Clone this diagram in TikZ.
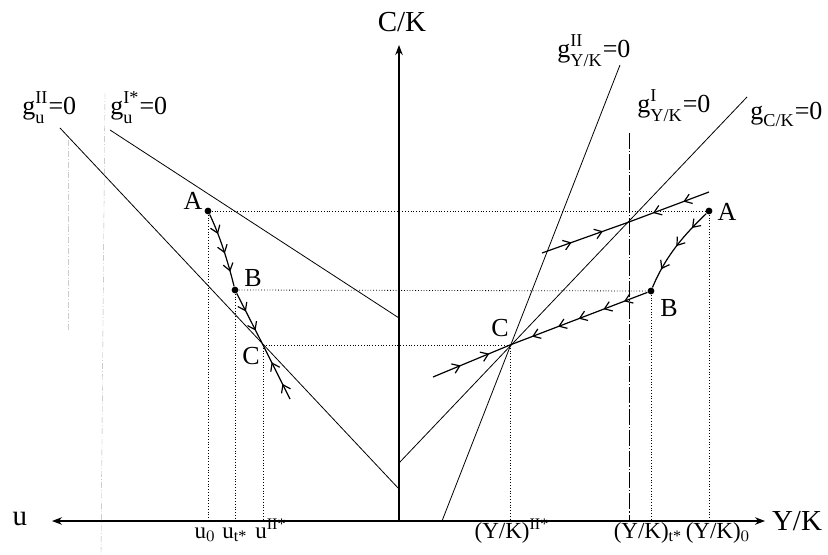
\documentclass[tikz,border=0pt]{standalone}
\usepackage{fontspec}
\setmainfont{Liberation Serif}
\usepackage{amsmath}
\usetikzlibrary{arrows.meta, decorations.markings}
\newcommand{\gsym}[2]{g$^{\text{\raisebox{0.3ex}{#1}}}_{\text{\raisebox{-0.35ex}{#2}}}$=0}
\tikzset{
  lbl/.style={font=\fontsize{13}{15}\selectfont, inner sep=1pt},
  axislbl/.style={font=\fontsize{14.5}{16}\selectfont, inner sep=1pt},
  ticklbl/.style={font=\fontsize{11.5}{13}\selectfont, inner sep=1pt, anchor=base},
  axisline/.style={semithick},
  isocline/.style={thin},
  traj/.style={semithick},
  guide/.style={densely dotted, thin},
  faint/.style={gray!60, densely dashdotted, very thin},
  statept/.style={circle, fill, inner sep=0pt, minimum size=3.4pt},
  flowat/.style={postaction={decorate, decoration={markings,
      mark=at position #1 with {\arrow{Straight Barb[length=3.5pt, width=5pt]}}}}},
}
\begin{document}
\begin{tikzpicture}[x=0.5pt, y=-0.5pt, every node/.style={lbl}]
  \useasboundingbox (0,0) rectangle (828,555);

  % axes
  \coordinate (O) at (399,521);
  \coordinate (uend) at (52,521);
  \coordinate (yend) at (765,521);
  \coordinate (cktop) at (399,45);
  \draw[axisline, {Stealth[length=5pt]}-{Stealth[length=5pt]}] (uend) -- (yend);
  \draw[axisline, -{Stealth[length=5pt]}] (O) -- (cktop);
  \node[axislbl] (lu) at (20,519) {u};
  \node[axislbl] (lyk) at (797,521) {Y/K};
  \node[axislbl, anchor=base] (lck) at (402,32) {C/K};

  % faint verticals on the left
  \draw[faint] (105,93) -- (101,555);
  \draw[faint, gray!40] (68,140) -- (68,330);

  % states
  \node[statept] (Al) at (208,211) {};
  \node[statept] (Bl) at (235,290) {};
  \coordinate (Cl) at (263,345);
  \node[statept] (Ar) at (709,211) {};
  \node[statept] (Br) at (651,291) {};
  \coordinate (Cr) at (510,345);
  \node (lAl) at (193,201) {A};
  \node (lBl) at (253,278) {B};
  \node (lCl) at (251,356) {C};
  \node (lAr) at (727,212) {A};
  \node (lBr) at (669,308) {B};
  \node (lCr) at (500,328) {C};

  % guide lines
  \draw[guide] (Al) -- (Ar);
  \draw[guide] (Bl) -- (Br);
  \draw[guide] (Cl) -- (Cr);
  \foreach \p in {Al, Bl, Cl, Ar, Br, Cr}
    \draw[guide] (\p) -- (\p |- O);

  % isoclines, left
  \draw[isocline] (60,128) -- (399,489);
  \draw[isocline] (110,130) -- (399,318);
  \node[anchor=base west] (lguII) at (20,115) {\gsym{II}{u}};
  \node[anchor=base west] (lguI) at (108,115) {\gsym{I*}{u}};

  % isoclines, right
  \draw[isocline] (399,463) -- (747,97);
  \draw[isocline] (442,521) -- (620,65);
  \draw[isocline, dash pattern=on 8pt off 1pt on 0.6pt off 1pt] (629,133) -- (629,521);
  \coordinate (X) at (629,222);
  \node[anchor=base west] (lgyII) at (555,58) {\gsym{II}{Y/K}};
  \node[anchor=base west] (lgyI) at (635,113) {\gsym{I}{Y/K}};
  \node[anchor=base west] (lgck) at (748,120) {g$_{\text{\raisebox{-0.35ex}{C/K}}}$=0};

  % trajectories, left
  \draw[traj, flowat=0.28, flowat=0.55, flowat=0.8]
    (Al) .. controls (220,236) and (228,262) .. (Bl);
  \draw[traj, flowat=0.35, flowat=0.72] (Bl) -- (Cl);
  \coordinate (Sl) at (290,399);
  \draw[traj, flowat=0.28, flowat=0.68] (Sl) -- (Cl);

  % trajectories, right
  \draw[traj, flowat=0.22, flowat=0.48, flowat=0.78]
    (Ar) .. controls (685,234) and (666,255) .. (Br);
  \draw[traj, flowat=0.17, flowat=0.32, flowat=0.5, flowat=0.65, flowat=0.84] (Br) -- (Cr);
  \coordinate (Sr) at (433,377);
  \draw[traj, flowat=0.36, flowat=0.73] (Sr) -- (Cr);
  \coordinate (Ul) at (542,253);
  \coordinate (Ur) at (709,192);
  \draw[traj, flowat=0.34, flowat=0.7] (Ul) -- (X);
  \draw[traj, flowat=0.32, flowat=0.7] (Ur) -- (X);

  % axis marks
  \node[ticklbl] (lu0) at (205,538) {u$_0$};
  \node[ticklbl] (lut) at (235,538) {u$_{\text{t*}}$};
  \node[ticklbl] (luII) at (271,538) {u$^{\text{II*}}$};
  \node[ticklbl] (lyII) at (512,538) {(Y/K)$^{\text{II*}}$};
  \node[ticklbl] (lyt) at (648,538) {(Y/K)$_{\text{t*}}$};
  \node[ticklbl] (ly0) at (718,538) {(Y/K)$_0$};
\end{tikzpicture}
\end{document}
